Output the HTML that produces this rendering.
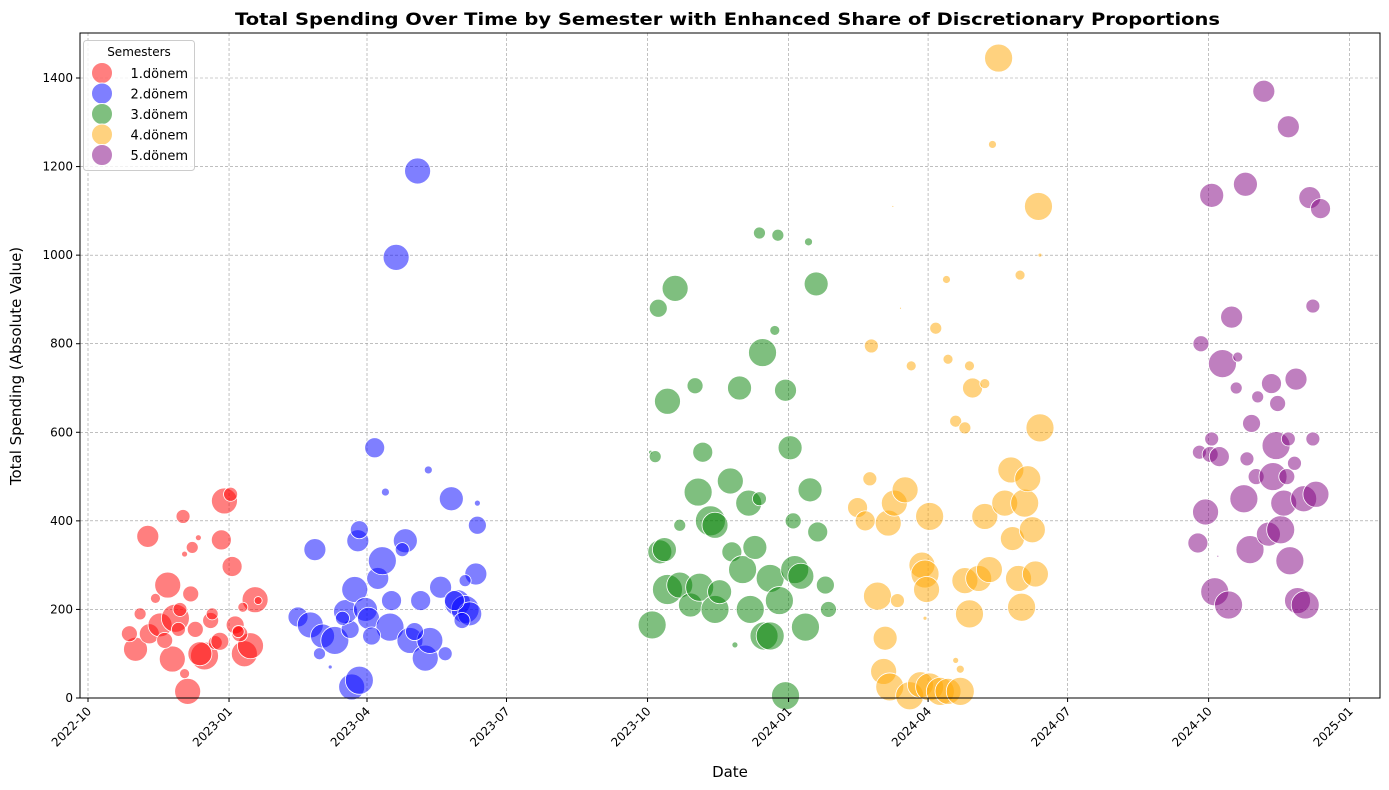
<!DOCTYPE html>
<html><head><meta charset="utf-8">
<style>
body{margin:0;background:#fff;}
svg{display:block;font-family:"DejaVu Sans","Liberation Sans",sans-serif;}
</style></head>
<body>
<svg id="chart" width="1389" height="790" viewBox="0 0 1389 790" xmlns="http://www.w3.org/2000/svg">
<rect width="1389" height="790" fill="#fff"/>
<text x="235" y="25" textLength="985" lengthAdjust="spacingAndGlyphs" font-size="17" font-weight="bold">Total Spending Over Time by Semester with Enhanced Share of Discretionary Proportions</text>
<g id="grid"></g>
<g id="marks"></g>
<rect x="80" y="33" width="1300" height="665" fill="none" stroke="#000" stroke-width="1"/>
<g id="axes"></g>
<text x="730" y="777" text-anchor="middle" font-size="15">Date</text>
<text transform="translate(21,366) rotate(-90)" text-anchor="middle" font-size="15">Total Spending (Absolute Value)</text>
<g id="legend"></g>
</svg>
<script>
// days since 2022-10-01, value, bubble size
const s1Days=[39,52,31,40,47,57,55,65,76,73,89,93,87,94,102,106,109,67,62,68,60,70,80,83,96,99,34,27,44,59,72,63,63,86,50,101,111,81,98];
const s1Vals=[365,255,110,145,165,180,88,15,95,100,445,460,357,297,100,118,222,235,410,340,200,155,175,125,165,145,190,145,225,155,362,325,55,128,130,205,220,190,150];
const s1Size=[11,13,12,10,12,14,13,13,14,12,13,7,10,10,13,13,13,8,7,6,7,8,8,7,9,8,6,8,5,7,3,3,5,9,8,5,4,6,6];
const s2Days=[137,148,145,153,161,151,171,168,174,176,177,172,177,181,183,187,189,192,197,194,198,201,207,205,210,215,217,220,222,223,230,233,237,241,246,249,253,254,254,158,166,185,213,244,246,239];
const s2Vals=[183,335,165,140,130,100,155,195,245,355,380,25,40,200,180,565,270,310,160,465,220,995,355,335,130,1190,220,90,515,130,250,100,450,215,200,190,280,390,440,70,180,140,150,175,265,220];
const s2Size=[10,11,13,12,14,6,9,12,13,11,9,13,14,12,11,10,11,14,14,4,10,13,12,7,13,13,10,13,4,13,11,7,12,13,14,12,11,9,3,2,7,9,9,8,6,10];
const s3Days=[367,370,372,373,368,376,378,383,378,386,393,396,399,401,398,406,409,409,412,419,420,425,427,431,432,438,435,440,441,445,448,450,451,455,455,458,461,460,465,470,471,468,475,476,481,483,386,445,438,422];
const s3Vals=[555,545,880,330,165,335,670,925,245,255,210,705,250,555,465,400,200,390,240,490,330,700,290,440,200,1050,340,780,140,270,830,1045,220,695,5,565,290,400,275,1030,470,160,935,375,255,200,390,140,450,120];
const s3Size=[2,6,9,12,14,12,13,13,15,13,12,8,14,10,14,15,14,13,12,13,10,12,14,13,14,6,12,14,14,14,5,6,14,11,14,12,14,8,13,4,12,14,12,10,9,8,6,14,7,3];
const s4Days=[510,511,502,507,515,520,519,522,523,526,528,533,536,537,543,544,546,547,549,553,549,556,561,560,561,566,569,572,572,575,577,575,581,585,588,590,594,598,602,603,607,608,609,611,613,616,618,620,621,621,530,525,585,569,566,546];
const s4Vals=[495,795,430,400,230,135,60,395,25,440,220,470,5,750,30,300,280,245,410,835,25,15,15,945,765,625,15,610,265,190,700,750,270,410,290,1250,1445,440,515,360,270,955,205,440,495,380,280,1110,610,1000,880,1110,710,65,85,180];
const s4Size=[7,7,10,10,14,12,13,13,14,13,7,13,14,5,13,13,14,13,14,6,14,14,13,4,5,6,14,6,13,14,10,5,13,13,13,4,14,13,13,12,13,5,14,14,13,13,13,14,14,2,1,1,5,4,3,2];
const s5Days=[724,726,725,729,732,733,735,733,738,740,744,746,749,750,754,755,756,758,759,762,763,767,770,772,773,775,776,778,780,782,783,783,784,787,788,789,793,794,797,799,799,801,804,737];
const s5Vals=[350,800,555,420,550,585,240,1135,545,755,210,860,700,770,450,1160,540,335,620,500,680,1370,370,710,500,570,665,380,440,500,1290,585,310,530,720,220,450,210,1130,885,585,460,1105,320];
const s5Size=[10,8,7,13,8,7,14,12,10,14,14,11,6,5,14,12,7,14,9,8,6,11,12,10,14,14,8,14,13,8,11,7,14,7,11,13,13,14,11,7,7,13,10,1];
const semNames=["1.dönem","2.dönem","3.dönem","4.dönem","5.dönem"];
const yTicks=[0,200,400,600,800,1000,1200,1400];
const xTickLabels=["2022-10","2023-01","2023-04","2023-07","2023-10","2024-01","2024-04","2024-07","2024-10","2025-01"];
const xTickDays=[0,92,182,273,365,457,548,639,731,823];

const colors=["red","blue","green","orange","purple"];
const NS="http://www.w3.org/2000/svg";
const xS=d=>88+d*1.533;
const yS=v=>698-v*(620/1400);
function mk(tag,attrs,parent){const e=document.createElementNS(NS,tag);for(const k in attrs)e.setAttribute(k,attrs[k]);parent.appendChild(e);return e;}
const grid=document.getElementById('grid'),axes=document.getElementById('axes'),marks=document.getElementById('marks'),legend=document.getElementById('legend');
yTicks.forEach(v=>{const y=yS(v);
 const l=mk('line',{x1:80,x2:1380,y1:y,y2:y,stroke:'#999','stroke-width':0.6,'stroke-dasharray':'3,2'},grid);
 
 mk('line',{x1:76,x2:80,y1:y,y2:y,stroke:'#000'},axes);
 const t=mk('text',{x:73,y:y+4,'text-anchor':'end','font-size':12},axes);t.textContent=v;
 
});
xTickDays.forEach((d,i)=>{const x=xS(d);
 const l=mk('line',{x1:x,x2:x,y1:33,y2:698,stroke:'#999','stroke-width':0.6,'stroke-dasharray':'3,2'},grid);
 
 mk('line',{x1:x,x2:x,y1:698,y2:702,stroke:'#000'},axes);
 const t=mk('text',{x:x+4,y:712,'text-anchor':'end','font-size':12,transform:`rotate(-45 ${x+4} 712)`},axes);t.textContent=xTickLabels[i];
 
});
const series=[[s1Days,s1Vals,s1Size],[s2Days,s2Vals,s2Size],[s3Days,s3Vals,s3Size],[s4Days,s4Vals,s4Size],[s5Days,s5Vals,s5Size]];
series.forEach((s,si)=>{
 const g=mk('g',{},marks);
 
 s[0].forEach((d,i)=>{
  const c=mk('circle',{cx:xS(d),cy:yS(s[1][i]),r:Math.max(s[2][i],0.8),fill:colors[si],'fill-opacity':0.5,stroke:'#fff','stroke-width':0.8},g);
  
 });
});
const lb=mk('rect',{x:83.5,y:40.5,width:111,height:130,rx:3,fill:'#fff','fill-opacity':0.8,stroke:'#ccc'},legend);

const lt=mk('text',{x:139,y:56,'text-anchor':'middle','font-size':12},legend);lt.textContent="Semesters";

semNames.forEach((n,i)=>{const y=73+i*20.5;
 const g=mk('g',{},legend);
 mk('circle',{cx:102,cy:y,r:10.5,fill:colors[i],'fill-opacity':0.5,stroke:'#fff'},g);
 const t=mk('text',{x:188,y:y+5,'text-anchor':'end','font-size':13},g);t.textContent=n;
});
</script>
</body></html>
